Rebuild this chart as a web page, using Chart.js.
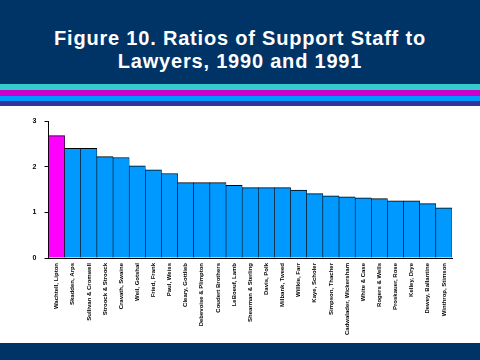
<!DOCTYPE html>
<html><head><meta charset="utf-8">
<script src="https://cdn.jsdelivr.net/npm/chart.js@4/dist/chart.umd.min.js"></script>
<style>
html,body{margin:0;padding:0;width:480px;height:360px;overflow:hidden;background:#fff;}
#hdr{position:absolute;left:0;top:0;width:480px;height:84px;background:#003366;}
#title{position:absolute;left:0;top:27px;width:480px;text-align:center;color:#fff;font:bold 20px "Liberation Sans",Arial,sans-serif;line-height:23px;letter-spacing:0.8px;}
.st{position:absolute;left:0;width:480px;}
#foot{position:absolute;left:0;top:343px;width:480px;height:17px;background:#003366;}
#wrap{position:absolute;left:0;top:106px;width:480px;height:237px;}
</style></head>
<body>
<div id="hdr"></div>
<div id="title">Figure 10. Ratios of Support Staff to<br>Lawyers, 1990 and 1991</div>
<div class="st" style="top:84px;height:6px;background:#33CCCC"></div>
<div class="st" style="top:90px;height:6px;background:#CC00CC"></div>
<div class="st" style="top:96px;height:5px;background:#0099FF"></div>
<div class="st" style="top:101px;height:5px;background:#333399"></div>
<div id="wrap"><canvas id="c" width="480" height="237"></canvas></div>
<div id="foot"></div>
<script>
const firms = ["Wachtell, Lipton","Skadden, Arps","Sullivan & Cromwell","Stroock & Stroock","Cravath, Swaine","Weil, Gotshal","Fried, Frank","Paul, Weiss","Cleary, Gottlieb","Debevoise & Plimpton","Coudert Brothers","LeBoeuf, Lamb","Shearman & Sterling","Davis, Polk","Milbank, Tweed","Willkie, Farr","Kaye, Scholer","Simpson, Thacher","Cadwalader, Wickersham","White & Case","Rogers & Wells","Proskauer, Rose","Kelley, Drye","Dewey, Ballantine","Winthrop, Stimson"];
const ratios = [2.68,2.40,2.40,2.22,2.20,2.02,1.93,1.85,1.65,1.65,1.65,1.59,1.54,1.54,1.54,1.49,1.41,1.36,1.34,1.32,1.30,1.25,1.25,1.19,1.10];
const yTicks = [0,1,2,3];
const colors = ratios.map((v,i)=> i===0 ? '#FF00FF' : '#0099FF');

new Chart(document.getElementById('c'), {
  type:'bar',
  data:{labels:firms, datasets:[{data:ratios, backgroundColor:colors, borderColor:'#000',
    borderWidth:{top:1,left:0.6,right:0.6,bottom:0}, borderSkipped:false, barPercentage:1, categoryPercentage:1}]},
  options:{
    responsive:false, animation:false, devicePixelRatio:1,
    layout:{padding:{top:15,right:28,left:0,bottom:0}},
    plugins:{legend:{display:false}, tooltip:{enabled:false}},
    scales:{
      x:{
        grid:{display:false, drawTicks:false},
        border:{color:'#000', width:1},
        ticks:{color:'#000', font:{family:'"Liberation Sans", Arial, sans-serif', size:6, weight:'bold'}, maxRotation:90, minRotation:90, autoSkip:false, padding:5},
        afterFit:(s)=>{s.height=85;}
      },
      y:{
        min:0, max:3,
        afterBuildTicks:(s)=>{s.ticks=yTicks.map(v=>({value:v}));},
        grid:{drawOnChartArea:false, tickLength:4, color:'#000'},
        border:{color:'#000', width:1},
        ticks:{color:'#000', font:{family:'"Liberation Sans", Arial, sans-serif', size:7, weight:'bold'}, padding:8},
        afterFit:(s)=>{s.width=48.5;}
      }
    }
  }
});
</script>
</body></html>
